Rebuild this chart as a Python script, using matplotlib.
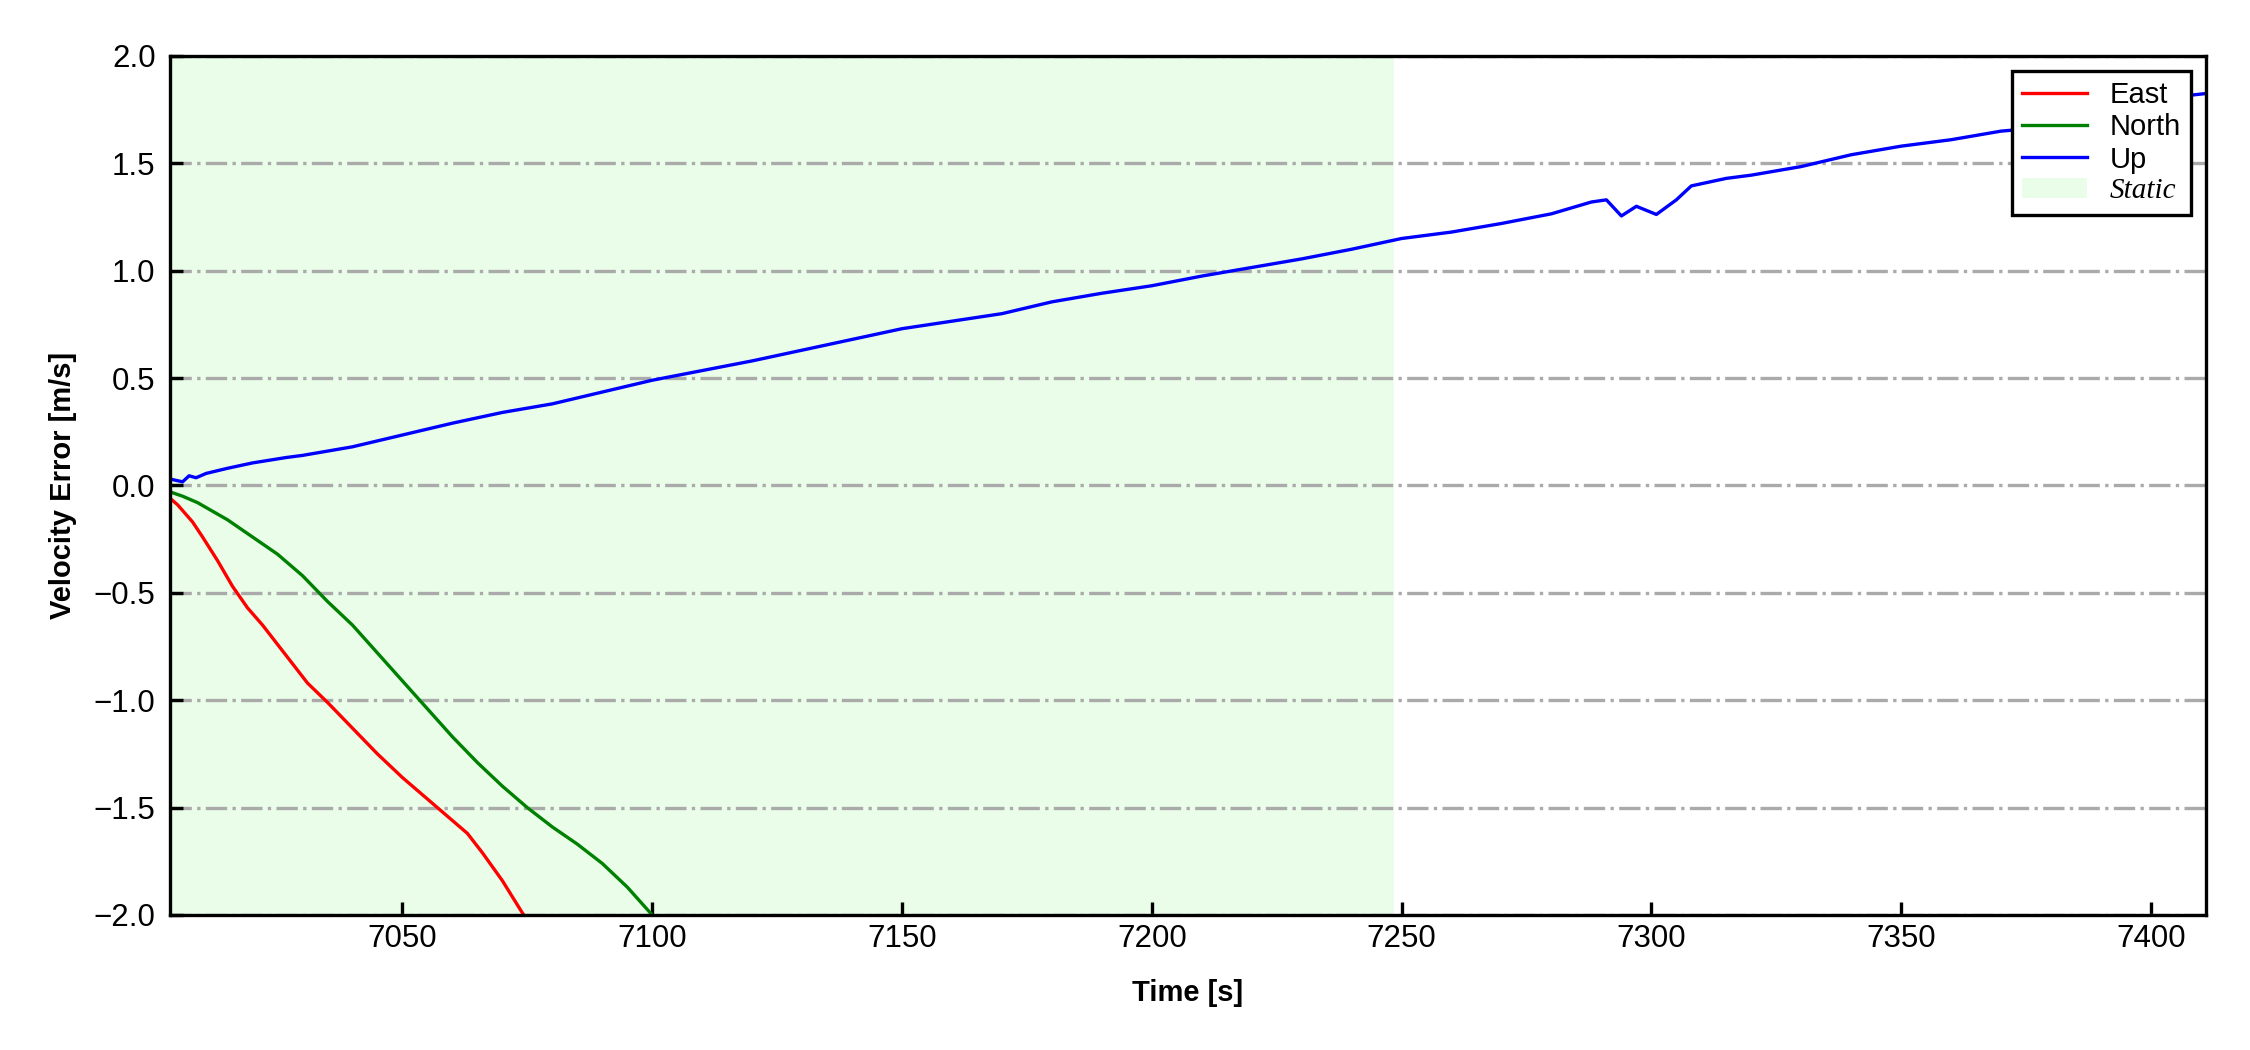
import matplotlib
matplotlib.use("Agg")
import matplotlib.pyplot as plt

plt.rcParams["font.family"] = ["Liberation Sans", "DejaVu Sans"]

# velocity error
t_east = [7003.5, 7005, 7008, 7010, 7013, 7016, 7019, 7022, 7025, 7028, 7031, 7035,
          7040, 7045, 7050, 7055, 7060, 7063, 7066, 7070, 7074, 7078]
v_east = [-0.06, -0.09, -0.17, -0.24, -0.35, -0.47, -0.57, -0.65, -0.74, -0.83, -0.92, -1.01,
          -1.13, -1.25, -1.36, -1.46, -1.56, -1.62, -1.71, -1.84, -1.99, -2.12]

t_north = [7003.5, 7006, 7009, 7012, 7015, 7020, 7025, 7030, 7035, 7040, 7045, 7050,
           7055, 7060, 7065, 7070, 7075, 7080, 7085, 7090, 7095, 7100, 7103]
v_north = [-0.03, -0.05, -0.08, -0.12, -0.16, -0.24, -0.32, -0.42, -0.54, -0.65, -0.78, -0.91,
           -1.04, -1.17, -1.29, -1.40, -1.50, -1.59, -1.67, -1.76, -1.87, -2.00, -2.08]

t_up = [7003.5, 7006, 7007.3, 7008.7, 7010.7, 7015, 7020, 7026.7, 7030, 7040, 7050, 7060,
        7070, 7080, 7090, 7100, 7110, 7120, 7130, 7140, 7150, 7160, 7170, 7180, 7190,
        7200, 7210, 7220, 7230, 7240, 7250, 7260, 7270, 7280, 7288, 7291, 7294, 7297,
        7301, 7305, 7308, 7315, 7320, 7330, 7340, 7350, 7360, 7370, 7373, 7380, 7390,
        7400, 7405, 7411]
v_up = [0.03, 0.017, 0.045, 0.036, 0.056, 0.08, 0.105, 0.13, 0.14, 0.18, 0.235, 0.29,
        0.34, 0.38, 0.435, 0.49, 0.535, 0.58, 0.63, 0.68, 0.73, 0.765, 0.80, 0.855, 0.895,
        0.93, 0.975, 1.015, 1.055, 1.10, 1.15, 1.18, 1.22, 1.265, 1.32, 1.33, 1.255, 1.30,
        1.262, 1.33, 1.395, 1.43, 1.445, 1.485, 1.54, 1.58, 1.61, 1.65, 1.656, 1.68, 1.73,
        1.78, 1.81, 1.825]

static_start = 7003.5
static_end = 7248.5

fig = plt.figure(figsize=(7.5, 3.5), dpi=300)
ax = fig.add_axes([0.0756, 0.1286, 0.9048, 0.8181])

ax.axvspan(static_start, static_end, color="#e9fde9", lw=0, label="Static")
ax.plot(t_east, v_east, color="red", lw=0.8, label="East")
ax.plot(t_north, v_north, color="green", lw=0.8, label="North")
ax.plot(t_up, v_up, color="blue", lw=0.8, label="Up")

ax.set_xlim(7003.5, 7411)
ax.set_ylim(-2.0, 2.0)
ax.set_xticks([7050, 7100, 7150, 7200, 7250, 7300, 7350, 7400])
ax.set_yticks([-2.0, -1.5, -1.0, -0.5, 0.0, 0.5, 1.0, 1.5, 2.0])
ax.yaxis.grid(True, linestyle="-.", color="#aaaaaa", lw=0.8)
ax.tick_params(direction="in", labelsize=7.5, length=3.2, width=0.8)
ax.tick_params(axis="x", pad=2.2)
for s in ax.spines.values():
    s.set_linewidth(0.8)

ax.set_xlabel("Time [s]", fontsize=7, fontweight="bold", labelpad=6)
ax.set_ylabel("Velocity Error [m/s]", fontsize=7, fontweight="bold")

handles, labels = ax.get_legend_handles_labels()
order = [1, 2, 3, 0]
leg = ax.legend([handles[i] for i in order], [labels[i] for i in order],
                loc="upper right", fontsize=7, fancybox=False, edgecolor="black",
                framealpha=1, labelspacing=0.15, borderpad=0.35, handlelength=2.2)
leg.get_frame().set_linewidth(0.8)
static_txt = leg.get_texts()[3]
static_txt.set_fontfamily("Liberation Serif")
static_txt.set_fontstyle("italic")

fig.savefig("out.png", dpi=300)
